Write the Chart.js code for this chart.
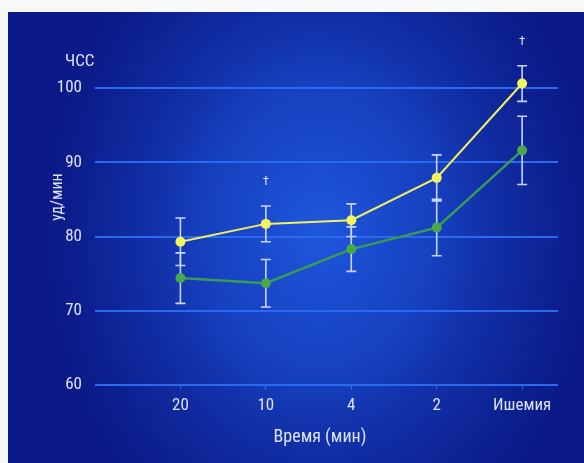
<!DOCTYPE html>
<html>
<head>
<meta charset="utf-8">
<script src="https://cdn.jsdelivr.net/npm/chart.js@4/dist/chart.umd.min.js"></script>
<style>
  html, body { margin: 0; padding: 0; background: #ffffff; }
  #wrap { width: 584px; height: 463px; position: relative; }
</style>
</head>
<body>
<div id="wrap"><canvas id="c" width="584" height="463"></canvas></div>
<script>
// Heart rate (ЧСС) over time before ischemia
const categories = ['20', '10', '4', '2', 'Ишемия'];
const yellowValues = [79.3, 81.7, 82.2, 87.9, 100.6];
const yellowErrors = [3.2, 2.4, 2.2, 3.1, 2.4];
const greenValues = [74.4, 73.7, 78.3, 81.2, 91.6];
const greenErrors = [3.4, 3.2, 3.0, 3.8, 4.6];
const significance = ['', '†', '', '', '†'];
const yTicks = [60, 70, 80, 90, 100];

const FONT = "'Liberation Sans Narrow', 'Roboto Condensed', 'DejaVu Sans Condensed', sans-serif";
const TEXT = '#dbe2fd';

const toPoints = vals => vals.map((v, i) => ({ x: i, y: v }));

const backdrop = {
  id: 'backdrop',
  beforeDraw(chart) {
    const ctx = chart.ctx;
    const W = chart.width, H = chart.height;
    ctx.save();
    ctx.fillStyle = '#f7f8fa';
    ctx.fillRect(0, 0, W, H);
    ctx.beginPath();
    ctx.rect(8, 12, W - 8, H - 12);
    ctx.clip();
    ctx.fillStyle = '#0b1a88';
    ctx.fillRect(8, 12, W - 8, H - 12);
    // soft glow toward the middle of the panel
    ctx.translate(320, 230);
    ctx.scale(1, 1.25);
    const g = ctx.createRadialGradient(0, 0, 5, 0, 0, 290);
    g.addColorStop(0, 'rgba(30,86,220,1)');
    g.addColorStop(0.4, 'rgba(24,70,200,0.85)');
    g.addColorStop(0.75, 'rgba(18,50,170,0.45)');
    g.addColorStop(1, 'rgba(11,26,136,0)');
    ctx.fillStyle = g;
    ctx.fillRect(-340, -200, W + 40, H);
    ctx.restore();
  }
};

const errorBars = {
  id: 'errorBars',
  beforeDatasetsDraw(chart) {
    const ctx = chart.ctx;
    const xs = chart.scales.x, ys = chart.scales.y;
    ctx.save();
    ctx.strokeStyle = '#c9d3ff';
    ctx.lineWidth = 1.6;
    chart.data.datasets.forEach(ds => {
      ds.data.forEach((p, i) => {
        const e = ds.errors[i];
        const x = xs.getPixelForValue(p.x);
        const t = ys.getPixelForValue(p.y + e);
        const b = ys.getPixelForValue(p.y - e);
        ctx.beginPath();
        ctx.moveTo(x, t); ctx.lineTo(x, b);
        ctx.moveTo(x - 5, t); ctx.lineTo(x + 5, t);
        ctx.moveTo(x - 5, b); ctx.lineTo(x + 5, b);
        ctx.stroke();
      });
    });
    ctx.restore();
  }
};

const labels = {
  id: 'labels',
  afterDraw(chart) {
    const ctx = chart.ctx;
    const xs = chart.scales.x, ys = chart.scales.y;
    ctx.save();
    ctx.fillStyle = TEXT;
    ctx.font = '17px ' + FONT;
    ctx.textBaseline = 'middle';
    ctx.textAlign = 'left';
    ctx.fillText('ЧСС', 65, 62);
    ctx.textAlign = 'center';
    ctx.font = '18px ' + FONT;
    ctx.fillText('Время (мин)', 320, 437);
    ctx.save();
    ctx.translate(58, 197);
    ctx.rotate(-Math.PI / 2);
    ctx.font = '16px ' + FONT;
    ctx.fillText('уд/мин', 0, 0);
    ctx.restore();
    ctx.font = '13px ' + FONT;
    significance.forEach((s, i) => {
      if (!s) return;
      const x = xs.getPixelForValue(i);
      const y = ys.getPixelForValue(yellowValues[i] + yellowErrors[i]) - 24;
      ctx.fillText(s, x, y);
    });
    ctx.restore();
  }
};

new Chart(document.getElementById('c'), {
  type: 'line',
  data: {
    datasets: [
      {
        label: 'yellow',
        data: toPoints(yellowValues),
        errors: yellowErrors,
        borderColor: '#f0f060',
        backgroundColor: '#f4f45c',
        borderWidth: 2,
        pointRadius: 5,
        pointBorderWidth: 0,
        pointBackgroundColor: '#f4f45c',
        tension: 0,
        clip: false
      },
      {
        label: 'green',
        data: toPoints(greenValues),
        errors: greenErrors,
        borderColor: '#3a9a56',
        backgroundColor: '#4aa84c',
        borderWidth: 2.5,
        pointRadius: 5,
        pointBorderWidth: 0,
        pointBackgroundColor: '#4aa84c',
        tension: 0,
        clip: false
      }
    ]
  },
  options: {
    responsive: false,
    animation: false,
    devicePixelRatio: 1,
    layout: { padding: { left: 0, right: 26, top: 88, bottom: 0 } },
    plugins: {
      legend: { display: false },
      tooltip: { enabled: false }
    },
    scales: {
      x: {
        type: 'linear',
        min: -1,
        max: 4.42,
        afterBuildTicks(scale) {
          scale.ticks = categories.map((c, i) => ({ value: i }));
        },
        afterFit(scale) { scale.height = 78; },
        ticks: {
          callback: v => categories[v] ?? '',
          color: TEXT,
          font: { family: FONT, size: 17 },
          padding: 7,
          maxRotation: 0,
          autoSkip: false
        },
        grid: {
          drawOnChartArea: false,
          drawTicks: true,
          tickLength: 4,
          color: 'rgba(90,150,255,0.6)'
        },
        border: { display: false }
      },
      y: {
        min: 60,
        max: 100,
        afterBuildTicks(scale) {
          scale.ticks = yTicks.map(v => ({ value: v }));
        },
        afterFit(scale) { scale.width = 95; },
        ticks: {
          color: TEXT,
          font: { family: FONT, size: 17 },
          padding: 13
        },
        grid: {
          color: '#2a6aee',
          lineWidth: 2,
          drawTicks: false
        },
        border: { display: false }
      }
    }
  },
  plugins: [backdrop, errorBars, labels]
});
</script>
</body>
</html>
